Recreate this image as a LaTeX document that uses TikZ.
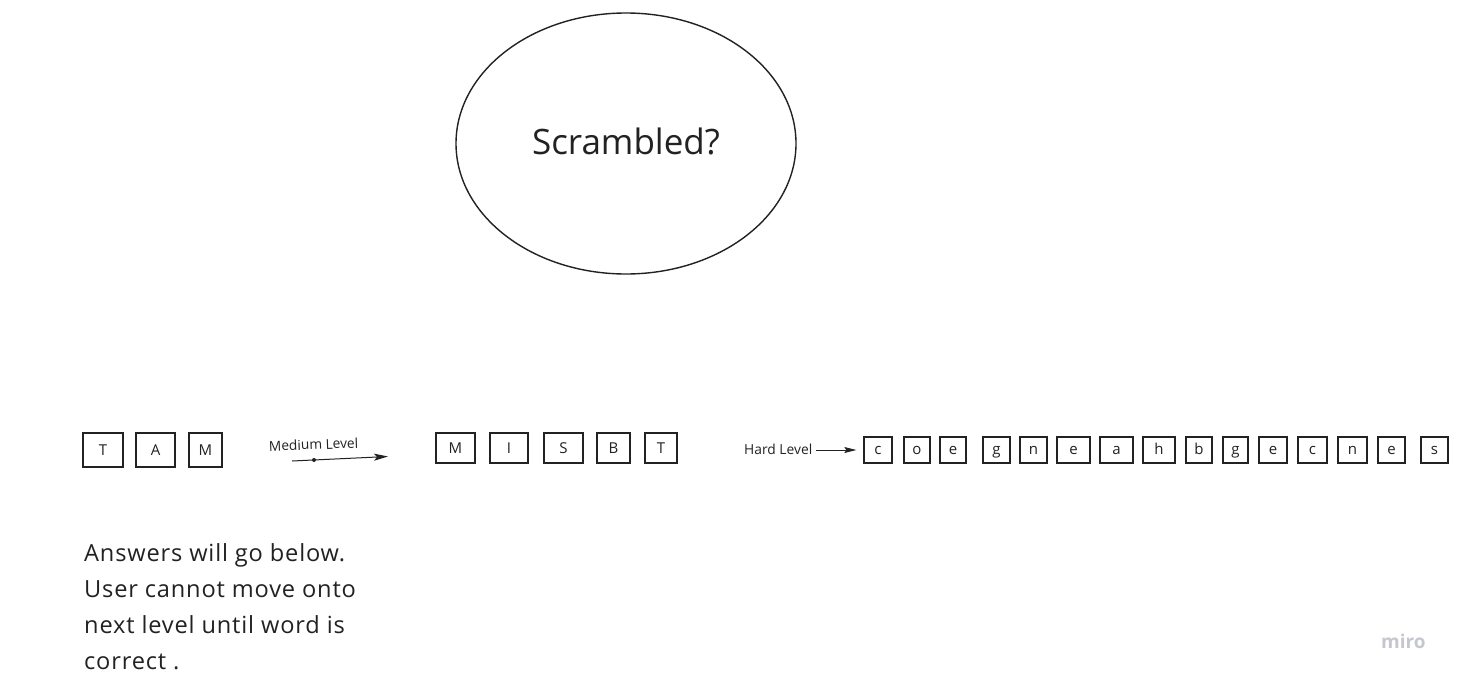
\documentclass[tikz,border=0pt]{standalone}
\usepackage{fontspec}
\setmainfont{Open Sans}
\usetikzlibrary{arrows.meta,shapes.geometric}
\definecolor{ink}{HTML}{222222}
\definecolor{wm}{HTML}{C5C7CF}
\tikzset{
  lbox/.style={draw=ink, line width=1.3pt, inner sep=0pt, font=\fontsize{15}{16}\selectfont, text=ink},
  ubox/.style={lbox, text height=10.7pt, text depth=0pt},
  sbox/.style={lbox, text height=8pt, text depth=0pt},
  conn/.style={draw=ink, line width=1pt, -{Stealth[length=14pt,width=7pt,inset=3pt]}},
  hconn/.style={draw=ink, line width=1pt, -{Stealth[length=12pt,width=6pt,inset=2pt]}},
  notetext/.style={font=\fontsize{23.6}{36}\selectfont\addfontfeature{LetterSpace=3.5}, text=ink, anchor=base west, inner sep=0pt},
}
\begin{document}
\begin{tikzpicture}[x=1pt,y=-1pt]
\useasboundingbox (0,0) rectangle (1462,683);
\fill[white] (0,0) rectangle (1462,683);
% ellipse
\node[draw=ink, line width=1.4pt, ellipse, minimum width=340pt, minimum height=261pt, inner sep=0pt] (scr) at (626,143.5) {};
\node[font=\fontsize{35}{40}\selectfont, text=ink, anchor=base, inner sep=0pt] (scrlab) at (626,154) {Scrambled?};
% easy level
\node[ubox, minimum width=40pt, minimum height=34pt] (e1) at (103,450) {T};
\node[ubox, minimum width=39pt, minimum height=34pt] (e2) at (155.5,450) {A};
\node[ubox, minimum width=33pt, minimum height=34pt] (e3) at (205.5,450) {M};
% medium label and arrow
\node[font=\fontsize{13.7}{15}\selectfont, text=ink, rotate=2, anchor=base west, inner sep=0pt] (medlab) at (269,451) {Medium Level};
\coordinate (ma) at (292,461);
\coordinate (mb) at (388,456.5);
\draw[conn] (ma) -- (mb);
\node[fill=ink, circle, inner sep=0pt, minimum size=4pt] (mdot) at (314,460) {};
% medium level
\node[ubox, minimum width=39pt, minimum height=30pt] (m1) at (455.5,448) {M};
\node[ubox, minimum width=38pt, minimum height=30pt] (m2) at (509,448) {I};
\node[ubox, minimum width=39pt, minimum height=30pt] (m3) at (563.5,448) {S};
\node[ubox, minimum width=33pt, minimum height=30pt] (m4) at (613.5,448) {B};
\node[ubox, minimum width=32pt, minimum height=30pt] (m5) at (661,448) {T};
% hard level
\node[font=\fontsize{13.8}{15}\selectfont, text=ink, anchor=base west, inner sep=0pt] (hardlab) at (744,454) {Hard Level};
\node[sbox, minimum width=28pt, minimum height=26pt] (h1) at (878,450) {c};
\coordinate (ha) at (816,450);
\draw[hconn, shorten >=7pt] (ha) -- (h1.west);
\node[sbox, minimum width=26pt, minimum height=26pt] (h2) at (917,450) {o};
\node[sbox, minimum width=26pt, minimum height=26pt] (h3) at (953,450) {e};
\node[sbox, minimum width=27pt, minimum height=26pt] (h4) at (996.5,450) {g};
\node[sbox, minimum width=27pt, minimum height=26pt] (h5) at (1033.5,450) {n};
\node[sbox, minimum width=33pt, minimum height=26pt] (h6) at (1073.5,450) {e};
\node[sbox, minimum width=33pt, minimum height=26pt] (h7) at (1116.5,450) {a};
\node[sbox, minimum width=32pt, minimum height=26pt] (h8) at (1159,450) {h};
\node[sbox, minimum width=26pt, minimum height=26pt] (h9) at (1199,450) {b};
\node[sbox, minimum width=25pt, minimum height=26pt] (h10) at (1235.5,450) {g};
\node[sbox, minimum width=28pt, minimum height=26pt] (h11) at (1273,450) {e};
\node[sbox, minimum width=29pt, minimum height=26pt] (h12) at (1312.5,450) {c};
\node[sbox, minimum width=29pt, minimum height=26pt] (h13) at (1352.5,450) {n};
\node[sbox, minimum width=27pt, minimum height=26pt] (h14) at (1391.5,450) {e};
\node[sbox, minimum width=27pt, minimum height=26pt] (h15) at (1434.5,450) {s};
% note
\node[notetext] (note1) at (84,561) {Answers will go below.};
\node[notetext] (note2) at (84,597) {User cannot move onto};
\node[notetext] (note3) at (84,633) {next level until word is};
\node[notetext] (note4) at (84,669) {correct .};
% watermark
\node[font=\fontsize{19}{20}\selectfont\bfseries, text=wm, anchor=base west, inner sep=0pt] (miro) at (1381,648) {miro};
\end{tikzpicture}
\end{document}
